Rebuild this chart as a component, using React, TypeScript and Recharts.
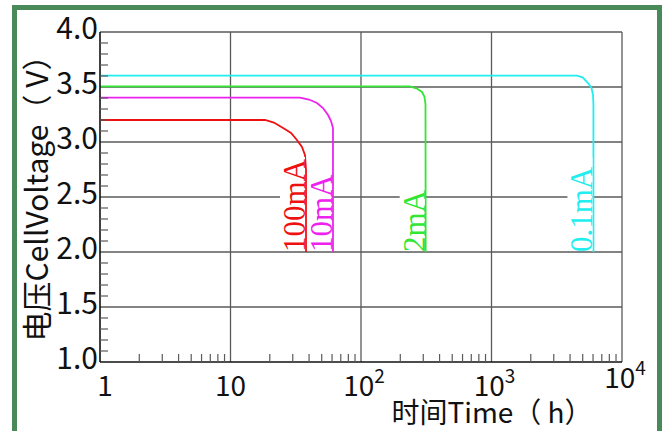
import React from 'react'
import { LineChart, Line, XAxis, YAxis, ReferenceLine } from 'recharts'

// time (h) on a log axis, cell voltage (V)
const xMajorTicks = [1, 10, 100, 1000, 10000]
const xMinorTicks = [
  2, 3, 4, 5, 6, 7, 8, 9,
  20, 30, 40, 50, 60, 70, 80, 90,
  200, 300, 400, 500, 600, 700, 800, 900,
  2000, 3000, 4000, 5000, 6000, 7000, 8000, 9000,
]
const xTickBase = ['1', '10', '10', '10', '10']
const xTickExp = ['', '', '2', '3', '4']

const yMajorTicks = [1.0, 1.5, 2.0, 2.5, 3.0, 3.5, 4.0]
const yTickLabels = ['1.0', '1.5', '2.0', '2.5', '3.0', '3.5', '4.0']
const yMinorTicks = [
  1.1, 1.2, 1.3, 1.4, 1.6, 1.7, 1.8, 1.9,
  2.1, 2.2, 2.3, 2.4, 2.6, 2.7, 2.8, 2.9,
  3.1, 3.2, 3.3, 3.4, 3.6, 3.7, 3.8, 3.9,
]

// discharge curves
const curve01mA = [
  { t: 1, v: 3.603 }, { t: 4520, v: 3.603 }, { t: 5024, v: 3.586 }, { t: 5486, v: 3.536 },
  { t: 5838, v: 3.491 }, { t: 5998, v: 3.427 }, { t: 6040, v: 3.336 }, { t: 6040, v: 2.0 },
]
const curve2mA = [
  { t: 1, v: 3.505 }, { t: 237, v: 3.505 }, { t: 268, v: 3.486 }, { t: 293, v: 3.455 },
  { t: 306, v: 3.414 }, { t: 312, v: 3.345 }, { t: 313, v: 2.0 },
]
const curve10mA = [
  { t: 1, v: 3.403 }, { t: 34, v: 3.403 }, { t: 39.9, v: 3.386 }, { t: 46, v: 3.355 },
  { t: 51.1, v: 3.309 }, { t: 55.9, v: 3.245 }, { t: 58.9, v: 3.191 }, { t: 61, v: 3.127 },
  { t: 61, v: 2.0 },
]
const curve100mA = [
  { t: 1, v: 3.2 }, { t: 18.4, v: 3.2 }, { t: 21.5, v: 3.177 }, { t: 25.3, v: 3.127 },
  { t: 29.1, v: 3.082 }, { t: 32.3, v: 3.018 }, { t: 35.3, v: 2.955 }, { t: 37.2, v: 2.882 },
  { t: 37.9, v: 2.745 }, { t: 37.9, v: 2.0 },
]

const series = [
  { name: '0.1mA', data: curve01mA, color: '#22eef0' },
  { name: '2mA', data: curve2mA, color: '#33e633' },
  { name: '10mA', data: curve10mA, color: '#ee22ee' },
  { name: '100mA', data: curve100mA, color: '#ee1111' },
]

const FONT = '"Noto Sans CJK SC", "Noto Sans", sans-serif'
const GRID = '#5a5a5a'

const XTick = (props: any) => {
  const { x, y, payload } = props
  const i = xMajorTicks.indexOf(payload.value)
  if (i === -1) {
    return <line x1={x} y1={y} x2={x} y2={y - 8} stroke={GRID} strokeWidth={1.2} />
  }
  const exp = xTickExp[i]
  // the last label sits a little higher in the original
  const dy = i === xMajorTicks.length - 1 ? 26 : 34
  const dx = i === 0 ? 5 : exp ? 3 : 0
  return (
    <text x={x + dx} y={y + dy} textAnchor="middle" fontSize={28} fontFamily={FONT} fill="#111">
      {xTickBase[i]}
      {exp && <tspan fontSize={19} dy={-13}>{exp}</tspan>}
    </text>
  )
}

const YTick = (props: any) => {
  const { x, y, payload } = props
  const i = yMajorTicks.findIndex(m => Math.abs(m - payload.value) < 1e-6)
  if (i === -1) {
    return <line x1={x} y1={y} x2={x + 8} y2={y} stroke={GRID} strokeWidth={1.2} />
  }
  return (
    <text x={x - 2} y={y + 7} textAnchor="end" fontSize={30} fontFamily={FONT} fill="#111">
      {yTickLabels[i]}
    </text>
  )
}

const endLabel = (text: string, color: string, lastIndex: number) => (props: any) => {
  const { x, y, index } = props
  if (index !== lastIndex) return null
  const len = text.length * 19
  return (
    <g>
      <rect x={x - 26} y={y - len} width={25} height={len - 2} fill="#fff" />
      <text
        x={x - 1}
        y={y}
        transform={`rotate(-90, ${x - 1}, ${y})`}
        textAnchor="start"
        fontSize={31}
        fontFamily='"Liberation Serif", serif'
        fill={color}
      >
        {text}
      </text>
    </g>
  )
}

export default function App() {
  return (
    <div style={{ position: 'fixed', left: 0, top: 0, width: 667, height: 431, overflow: 'hidden', background: '#fff' }}>
      <div
        style={{
          position: 'absolute', left: 12, top: 5, width: 650, height: 460,
          border: '5px solid #4a8a5a', boxSizing: 'border-box',
        }}
      />
      <div style={{ position: 'absolute', left: 0, top: 0 }}>
        <LineChart width={667} height={431} margin={{ top: 32, right: 45, bottom: 19, left: 20 }}>
          <XAxis
            dataKey="t"
            type="number"
            scale="log"
            domain={[1, 10000]}
            allowDataOverflow
            ticks={[...xMajorTicks, ...xMinorTicks]}
            interval={0}
            height={50}
            tickLine={false}
            tickSize={0}
            tickMargin={0}
            axisLine={{ stroke: '#111', strokeWidth: 1.6 }}
            tick={<XTick />}
            label={{
              content: (p: any) => (
                <text x={p.viewBox.x + 392} y={p.viewBox.y + 61} textAnchor="middle" fontSize={28} fontFamily={FONT} fill="#111">
                  时间Time（ h）
                </text>
              ),
            }}
          />
          <YAxis
            type="number"
            domain={[1, 4]}
            ticks={[...yMajorTicks, ...yMinorTicks]}
            interval={0}
            width={80}
            tickLine={false}
            tickSize={0}
            tickMargin={0}
            axisLine={{ stroke: '#111', strokeWidth: 1.6 }}
            tick={<YTick />}
            label={{
              content: (p: any) => {
                const cx = p.viewBox.x + 15
                const cy = p.viewBox.y + p.viewBox.height / 2 - 6
                return (
                  <text x={cx} y={cy} transform={`rotate(-90, ${cx}, ${cy})`} textAnchor="middle" dominantBaseline="central" fontSize={30} fontFamily={FONT} fill="#111">
                    电压CellVoltage（ V）
                  </text>
                )
              },
            }}
          />

          {yMajorTicks.slice(1).map(v => (
            <ReferenceLine key={'h' + v} y={v} stroke={GRID} strokeWidth={1.3} />
          ))}
          {xMajorTicks.slice(1).map(v => (
            <ReferenceLine key={'v' + v} x={v} stroke={GRID} strokeWidth={1.3} />
          ))}

          {series.map(s => (
            <Line
              key={s.name}
              data={s.data}
              dataKey="v"
              type="linear"
              stroke={s.color}
              strokeWidth={1.8}
              dot={false}
              activeDot={false}
              isAnimationActive={false}
              label={endLabel(s.name, s.color, s.data.length - 1)}
            />
          ))}
        </LineChart>
      </div>
    </div>
  )
}
